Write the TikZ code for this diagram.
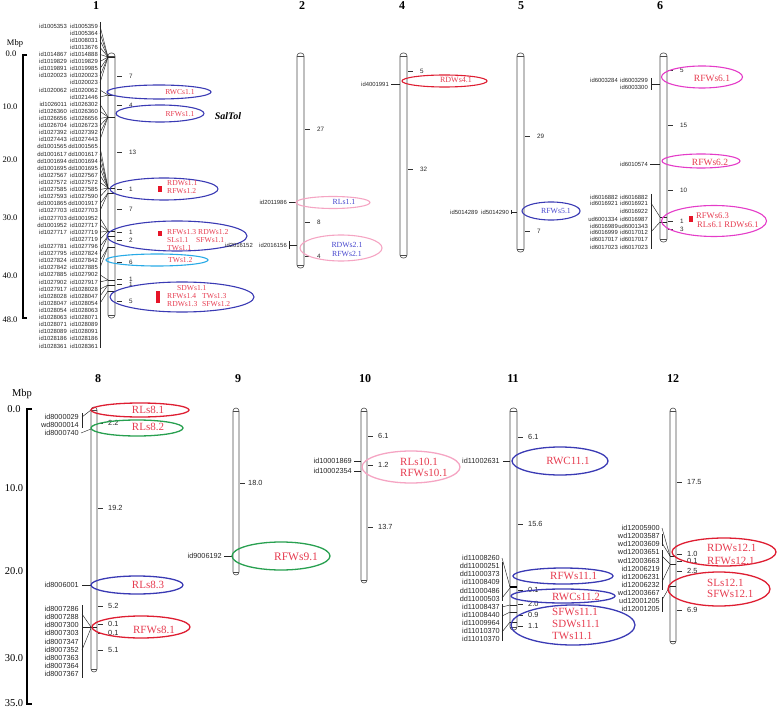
\documentclass[tikz,border=0pt]{standalone}
\usepackage{fontspec}
\setmainfont{Liberation Serif}
\newfontfamily\arialf{Liberation Sans}
\usetikzlibrary{shapes.geometric}
\definecolor{qblue}{RGB}{58,58,180}
\definecolor{qred}{RGB}{222,30,50}
\definecolor{qpink}{RGB}{245,165,195}
\definecolor{qmag}{RGB}{228,60,200}
\definecolor{qgreen}{RGB}{40,160,80}
\definecolor{qcyan}{RGB}{40,170,230}
\definecolor{qtext}{RGB}{230,60,80}
\definecolor{qbtext}{RGB}{70,70,205}
\definecolor{qsq}{RGB}{230,20,40}
\tikzset{
 chrline/.style={draw=black!70, line width=0.6pt, fill=white},
 mk/.style={font=\arialf\fontsize{5.9}{5.9}\selectfont, inner sep=0pt, anchor=east, text=black!85},
 mkb/.style={font=\arialf\fontsize{7.3}{7.3}\selectfont, inner sep=0pt, anchor=east, text=black!85},
 tk/.style={font=\arialf\fontsize{6.3}{6.3}\selectfont, inner sep=0pt, anchor=west, text=black!85},
 tkb/.style={font=\arialf\fontsize{7.4}{7.4}\selectfont, inner sep=0pt, anchor=west, text=black!85},
 tkl/.style={line width=0.5pt, black!80},
 ttl/.style={font=\bfseries\fontsize{12}{12}\selectfont, inner sep=0pt},
 sclt/.style={font=\fontsize{8.5}{8.5}\selectfont, inner sep=0pt},
 sclb/.style={font=\fontsize{10.5}{10.5}\selectfont, inner sep=0pt},
 qtl/.style={ellipse, draw, line width=1.1pt, inner sep=0pt, outer sep=0pt},
 qtlb/.style={ellipse, draw, line width=1.3pt, inner sep=0pt, outer sep=0pt},
 qs/.style={font=\fontsize{7.6}{7.6}\selectfont, inner sep=0pt, text=qtext},
 qsb/.style={font=\fontsize{7.8}{7.8}\selectfont, inner sep=0pt, text=qbtext},
 qm/.style={font=\fontsize{9.5}{9.5}\selectfont, inner sep=0pt, text=qtext},
 qmm/.style={font=\fontsize{8.6}{8.6}\selectfont, inner sep=0pt, text=qtext},
 qb/.style={font=\fontsize{11}{11}\selectfont, inner sep=0pt, text=qtext},
 lnk/.style={line width=0.45pt, black!85},
}
\newcommand\chrbar[4]{% xleft, top, bottom, width
  \draw[chrline, rounded corners=3pt] (#1,#2) rectangle (#1+#4,#3);
  \draw[black!70, line width=0.4pt] (#1,#2+3) -- (#1+#4,#2+3);
  \draw[black!70, line width=0.4pt] (#1,#3-3) -- (#1+#4,#3-3);
}
\newcommand\tkmark[6]{% style, x0, numx, y, text, name
  \draw[tkl] (#2,#4) -- (#2+5,#4);
  \node[#1] (#6) at (#3,#4) {#5};
}
\begin{document}
\begin{tikzpicture}[x=1pt,y=-1pt]
\useasboundingbox (0,0) rectangle (778,708);

% ---------------- titles
\node[ttl] (t1) at (96,6) {1};
\node[ttl] (t2) at (302,6) {2};
\node[ttl] (t4) at (402,6) {4};
\node[ttl] (t5) at (521,6) {5};
\node[ttl] (t6) at (660,6) {6};
\node[ttl] (t8) at (98,379) {8};
\node[ttl] (t9) at (238,379) {9};
\node[ttl] (t10) at (365,379) {10};
\node[ttl] (t11) at (513,379) {11};
\node[ttl] (t12) at (673,379) {12};

% ---------------- scale bars
\node[sclt] (mbp1) at (15,43) {Mbp};
\draw[line width=1.6pt] (27,55) -- (23,55) -- (23,318) -- (27,318);
\node[sclt] (s10) at (11,54) {0.0};
\node[sclt] (s11) at (10,107) {10.0};
\node[sclt] (s12) at (10,160) {20.0};
\node[sclt] (s13) at (10,218) {30.0};
\node[sclt] (s14) at (10,276) {40.0};
\node[sclt] (s15) at (10,320) {48.0};

\node[sclb] (mbp2) at (22,394) {Mbp};
\draw[line width=1.8pt] (32,409) -- (27,409) -- (27,704) -- (32,704);
\node[sclb] (s20) at (14,409) {0.0};
\node[sclb] (s21) at (14,488) {10.0};
\node[sclb] (s22) at (14,571) {20.0};
\node[sclb] (s23) at (14,658) {30.0};
\node[sclb] (s24) at (14,703) {35.0};

% ---------------- chromosome 1
\chrbar{108}{53}{318}{7}
\foreach \p in {57,95,117,188,193,231,236,247,280,285,291}
  \draw[lnk] (108,\p) -- (115,\p);
\draw[lnk] (100,22) -- (100,348);
\foreach \n/\L/\R/\p in {
1/id1005353/id1005359/57, 2//id1005364/57, 3//id1008031/57, 4//id1013676/57,
5/id1014867/id1014888/57, 6/id1019829/id1019829/57, 7/id1019891/id1019985/57,
8/id1020023/id1020023/57, 9//id1020023/57, 10/id1020062/id1020062/95,
11//id1021446/95, 12/id1026011/id1026302/117, 13/id1026360/id1026360/117,
14/id1026656/id1026656/117, 15/id1026704/id1026723/117, 16/id1027392/id1027392/117,
17/id1027443/id1027443/117, 18/dd1001565/dd1001565/188, 19/dd1001617/dd1001617/188,
20/dd1001694/dd1001694/188, 21/dd1001695/dd1001695/188, 22/id1027567/id1027567/188,
23/id1027572/id1027572/188, 24/id1027585/id1027585/188, 25/id1027593/id1027590/188,
26/dd1001865/dd1001917/193, 27/id1027703/id1027703/193, 28/id1027703/dd1001952/231,
29/dd1001952/id1027717/231, 30/id1027717/id1027719/231, 31//id1027719/231,
32/id1027781/id1027796/236, 33/id1027795/id1027824/236, 34/id1027824/id1027842/247,
35/id1027842/id1027885/247, 36/id1027885/id1027902/280, 37/id1027902/id1027917/280,
38/id1027917/id1028028/285, 39/id1028028/id1028047/285, 40/id1028047/id1028054/291,
41/id1028054/id1028063/291, 42/id1028063/id1028071/291, 43/id1028071/id1028089/291,
44/id1028089/id1028091/291, 45/id1028186/id1028186/291, 46/id1028361/id1028361/291}{
  \pgfmathsetmacro\yy{26+7.11*(\n-1)}
  \node[mk] (ma\n) at (67,\yy) {\L};
  \node[mk] (mb\n) at (98,\yy) {\R};
  \ifnum\n<41 \draw[lnk] (100,\yy) -- (108,\p); \fi
}
\foreach \y/\t [count=\c] in {76/7,105/4,152/13,189/1,209/7,232/1,240/2,262/6,279/1,284/1,301/5}
  {\tkmark{tk}{117}{129}{\y}{\t}{k1-\c}}

\node[qtl, draw=qblue, minimum width=104pt, minimum height=14pt] (q1) at (159,92) {};
\node[qs] (l1) at (180,92) {RWCs1.1};
\node[qtl, draw=qblue, minimum width=88pt, minimum height=17pt] (q2) at (160,113.5) {};
\node[qs] (l2) at (180,114) {RFWs1.1};
\node[font=\bfseries\itshape\fontsize{10}{10}\selectfont, inner sep=0pt] (saltol) at (228,116) {SalTol};
\node[qtl, draw=qblue, minimum width=108pt, minimum height=22pt] (q3) at (164,189) {};
\fill[qsq] (158,186) rectangle (162,192);
\node[qs, anchor=west] (l3a) at (167,183) {RDWs1.1};
\node[qs, anchor=west] (l3b) at (167,191) {RFWs1.2};
\node[qtl, draw=qblue, minimum width=140pt, minimum height=30pt] (q4) at (177,236) {};
\fill[qsq] (158,231) rectangle (162,236);
\node[qs, anchor=west] (l4a) at (167,232) {RFWs1.3};
\node[qs, anchor=west] (l4b) at (198,232) {RDWs1.2};
\node[qs, anchor=west] (l4c) at (167,240) {SLs1.1};
\node[qs, anchor=west] (l4d) at (196,240) {SFWs1.1};
\node[qs, anchor=west] (l4e) at (167,248) {TWs1.1};
\node[qtl, draw=qcyan, minimum width=102pt, minimum height=12pt] (q5) at (157,260) {};
\node[qs, anchor=west] (l5) at (168,260) {TWs1.2};
\node[qtl, draw=qblue, minimum width=144pt, minimum height=30pt] (q6) at (182,297) {};
\fill[qsq] (156,291) rectangle (160,303);
\node[qs, anchor=west] (l6a) at (177,288) {SDWs1.1};
\node[qs, anchor=west] (l6b) at (167,296) {RFWs1.4};
\node[qs, anchor=west] (l6c) at (202,296) {TWs1.3};
\node[qs, anchor=west] (l6d) at (167,304) {RDWs1.3};
\node[qs, anchor=west] (l6e) at (202,304) {SFWs1.2};

% ---------------- chromosome 2
\chrbar{297}{53}{268}{7}
\foreach \y/\t [count=\c] in {129/27,222/8,256/4}
  {\tkmark{tk}{305}{317}{\y}{\t}{k2-\c}}
\node[mk] (m2a) at (287,202) {id2011986};
\draw[lnk] (289,202) -- (297,202);
\node[mk] (m2b) at (253,245) {id2016152};
\node[mk] (m2c) at (287,245) {id2016156};
\draw[lnk] (289,241) -- (289,249);
\draw[lnk] (289,245) -- (297,245);
\node[qtl, draw=qpink, minimum width=74pt, minimum height=12pt] (q7) at (333,202.5) {};
\node[qsb] (l7) at (344,202) {RLs1.1};
\node[qtl, draw=qpink, minimum width=82pt, minimum height=26pt] (q8) at (341,248) {};
\node[qsb] (l8a) at (347,245) {RDWs2.1};
\node[qsb] (l8b) at (347,254) {RFWs2.1};

% ---------------- chromosome 4
\chrbar{400}{53}{258}{7}
\foreach \y/\t [count=\c] in {71/5,169/32}
  {\tkmark{tk}{408}{420}{\y}{\t}{k4-\c}}
\node[mk] (m4a) at (389,84) {id4001991};
\draw[lnk] (391,84) -- (400,84);
\node[qtl, draw=qred, minimum width=85pt, minimum height=12pt] (q9) at (444.5,81) {};
\node[qs, font=\fontsize{8}{8}\selectfont] (l9) at (456,80) {RDWs4.1};

% ---------------- chromosome 5
\chrbar{517}{53}{252}{7}
\foreach \y/\t [count=\c] in {136/29,231/7}
  {\tkmark{tk}{525}{537}{\y}{\t}{k5-\c}}
\node[mk] (m5a) at (478,212) {id5014289};
\node[mk] (m5b) at (509,212) {id5014290};
\draw[lnk] (511,210) -- (511,214);
\draw[lnk] (511,212) -- (517,212);
\node[qtl, draw=qblue, minimum width=58pt, minimum height=18pt] (q10) at (551,211) {};
\node[qsb] (l10) at (556,211) {RFWs5.1};

% ---------------- chromosome 6
\chrbar{660}{53}{242}{7}
\foreach \y/\t [count=\c] in {70/5,125/15,190/10,221/1,229/3}
  {\tkmark{tk}{668}{680}{\y}{\t}{k6-\c}}
\node[mk] (m6a) at (618,80) {id6003284};
\node[mk] (m6b) at (648,80) {id6003299};
\node[mk] (m6c) at (648,87) {id6003300};
\draw[lnk] (651,78) -- (651,90);
\draw[lnk] (651,84) -- (660,84);
\node[mk] (m6d) at (648,164) {id6010574};
\draw[lnk] (650,164) -- (660,164);
\foreach \n/\L/\R/\y in {1/id6016882/id6016882/197, 2/id6016921/id6016921/203,
 3//id6016922/211, 4/ud6001334/id6016987/219, 5/id6016989/ud6001343/226,
 6/id6016999/id6017012/232, 7/id6017017/id6017017/239, 8/id6017023/id6017023/247}{
  \node[mk] (m6l\n) at (618,\y) {\L};
  \node[mk] (m6r\n) at (648,\y) {\R};
}
\draw[lnk] (651,194) -- (651,249);
\draw[lnk] (651,203) -- (660,217);
\draw[lnk] (651,232) -- (660,222);
\draw[lnk] (660,217) -- (667,217);
\draw[lnk] (660,222) -- (667,222);
\node[qtl, draw=qmag, minimum width=81pt, minimum height=22pt] (q11) at (702,77) {};
\node[qm] (l11) at (712,78) {RFWs6.1};
\node[qtl, draw=qmag, minimum width=78pt, minimum height=14pt] (q12) at (701,161) {};
\node[qm] (l12) at (710,162) {RFWs6.2};
\node[qtl, draw=qmag, minimum width=105pt, minimum height=31pt] (q13) at (714,221) {};
\fill[qsq] (689,216) rectangle (693,222);
\node[qmm, anchor=west] (l13a) at (696,216) {RFWs6.3};
\node[qmm, anchor=west] (l13b) at (697,225) {RLs6.1 RDWs6.1};

% ---------------- chromosome 8
\chrbar{91}{407}{672}{6}
\foreach \y/\t [count=\c] in {423/2.2,508/19.2,606/5.2,624/0.1,633/0.1,650/5.1}
  {\tkmark{tkb}{98}{108}{\y}{\t}{k8-\c}}
\node[mkb] (m8a) at (79,417) {id8000029};
\node[mkb] (m8b) at (79,425) {wd8000014};
\node[mkb] (m8c) at (79,433) {id8000740};
\draw[lnk] (82,413) -- (82,428);
\draw[lnk] (82,417) -- (91,410);
\draw[lnk] (81,433) -- (91,429);
\node[mkb] (m8d) at (79,585) {id8006001};
\draw[lnk] (82,585) -- (91,585);
\foreach \n/\L in {1/id8007286,2/id8007288,3/id8007300,4/id8007303,5/id8007347,
 6/id8007352,7/id8007363,8/id8007364,9/id8007367}{
  \pgfmathsetmacro\yy{609+8.1*(\n-1)}
  \node[mkb] (m8e\n) at (79,\yy) {\L};
}
\draw[lnk] (82,605) -- (82,678);
\draw[lnk] (82,614) -- (91,627);
\draw[lnk] (82,627) -- (91,627);
\draw[lnk] (82,650) -- (91,628);
\draw[lnk] (91,627) -- (97,627);
\node[qtlb, draw=qred, minimum width=98pt, minimum height=14pt] (q14) at (140,410) {};
\node[qb] (l14) at (148,410) {RLs8.1};
\node[qtlb, draw=qgreen, minimum width=92pt, minimum height=16pt] (q15) at (137,428) {};
\node[qb] (l15) at (148,427) {RLs8.2};
\node[qtlb, draw=qblue, minimum width=92pt, minimum height=18pt] (q16) at (137,585) {};
\node[qb] (l16) at (148,585) {RLs8.3};
\node[qtlb, draw=qred, minimum width=98pt, minimum height=22pt] (q17) at (141,627) {};
\node[qb] (l17) at (154,630) {RFWs8.1};

% ---------------- chromosome 9
\chrbar{233}{408}{575}{6}
\tkmark{tkb}{240}{248}{483}{18.0}{k9-1}
\node[mkb] (m9a) at (222,556) {id9006192};
\draw[lnk] (224,556) -- (233,556);
\node[qtlb, draw=qgreen, minimum width=98pt, minimum height=28pt] (q18) at (281,556) {};
\node[qb, font=\fontsize{11.5}{11.5}\selectfont] (l18) at (296,557) {RFWs9.1};

% ---------------- chromosome 10
\chrbar{361}{408}{583}{6}
\foreach \y/\t [count=\c] in {436/6.1,465/1.2,527/13.7}
  {\tkmark{tkb}{368}{378}{\y}{\t}{k10-\c}}
\node[mkb] (m10a) at (352,461) {id10001869};
\node[mkb] (m10b) at (352,471) {id10002354};
\draw[lnk] (354,461) -- (361,461);
\draw[lnk] (354,471) -- (361,471);
\node[qtlb, draw=qpink, minimum width=98pt, minimum height=32pt] (q19) at (411,467) {};
\node[qb, anchor=west] (l19a) at (400,462) {RLs10.1};
\node[qb, anchor=west] (l19b) at (400,473) {RFWs10.1};

% ---------------- chromosome 11
\chrbar{510}{408}{630}{7}
\foreach \y/\t [count=\c] in {437/6.1,524/15.6,590/0.1,604/2.0,615/0.9,626/1.1}
  {\tkmark{tkb}{518}{528}{\y}{\t}{k11-\c}}
\node[mkb] (m11a) at (500,461) {id11002631};
\draw[lnk] (503,461) -- (510,461);
\foreach \n/\L in {1/id11008260,2/dd11000251,3/dd11000373,4/id11008409,5/dd11000486,
 6/dd11000503,7/id11008437,8/id11008440,9/id11009964,10/id11010370,11/id11010370}{
  \pgfmathsetmacro\yy{558+8.1*(\n-1)}
  \node[mkb] (m11b\n) at (500,\yy) {\L};
}
\draw[lnk] (502,562) -- (502,601);
\draw[lnk] (502,558) -- (510,587);
\draw[lnk] (502,598) -- (510,588);
\draw[lnk] (502,604) -- (502,641);
\draw[lnk] (502,607) -- (510,605);
\draw[lnk] (502,616) -- (510,612);
\draw[lnk] (502,632) -- (510,622);
\draw[black, line width=1.6pt] (510,587) -- (517,587);
\draw[lnk] (510,605) -- (517,605);
\draw[lnk] (510,612) -- (517,612);
\draw[lnk] (510,622) -- (517,622);
\node[qtlb, draw=qblue, minimum width=96pt, minimum height=28pt] (q20) at (560,461) {};
\node[qb] (l20) at (568,461) {RWC11.1};
\node[qtlb, draw=qblue, minimum width=100pt, minimum height=16pt] (q21) at (563,576) {};
\node[qb, anchor=west] (l21) at (550,576) {RFWs11.1};
\node[qtlb, draw=qblue, minimum width=104pt, minimum height=14pt] (q22) at (563,596) {};
\node[qb, anchor=west] (l22) at (552,597) {RWCs11.2};
\node[qtlb, draw=qblue, minimum width=124pt, minimum height=40pt] (q23) at (573,625) {};
\node[qb, anchor=west] (l23a) at (552,612) {SFWs11.1};
\node[qb, anchor=west] (l23b) at (552,624) {SDWs11.1};
\node[qb, anchor=west] (l23c) at (552,636) {TWs11.1};

% ---------------- chromosome 12
\chrbar{670}{408}{644}{6}
\foreach \y/\t [count=\c] in {482/17.5,554/1.0,561/0.1,571/2.5,610/6.9}
  {\tkmark{tkb}{677}{687}{\y}{\t}{k12-\c}}
\foreach \n/\L in {1/id12005900,2/wd12003587,3/wd12003609,4/wd12003651,5/wd12003663,
 6/id12006219,7/id12006231,8/id12006232,9/wd12003667,10/ud12001205,11/id12001205}{
  \pgfmathsetmacro\yy{528+8.1*(\n-1)}
  \node[mkb] (m12\n) at (660,\yy) {\L};
}
\draw[lnk] (662,528) -- (670,556);
\draw[lnk] (662,534) -- (662,546);
\draw[lnk] (662,543) -- (670,556);
\draw[lnk] (662,550) -- (662,590);
\draw[lnk] (662,556) -- (670,564);
\draw[lnk] (662,582) -- (670,565);
\draw[lnk] (662,597) -- (662,612);
\draw[lnk] (662,600) -- (670,586);
\draw[lnk] (670,556) -- (676,556);
\draw[lnk] (670,564) -- (676,564);
\draw[lnk] (670,586) -- (676,586);
\node[qtlb, draw=qred, minimum width=104pt, minimum height=28pt] (q24) at (724,552) {};
\node[qb, anchor=west] (l24a) at (707,548) {RDWs12.1};
\node[qb, anchor=west] (l24b) at (707,561) {RFWs12.1};
\node[qtlb, draw=qred, minimum width=102pt, minimum height=34pt] (q25) at (719,589) {};
\node[qb, anchor=west] (l25a) at (707,583) {SLs12.1};
\node[qb, anchor=west] (l25b) at (707,594) {SFWs12.1};

\end{tikzpicture}
\end{document}
